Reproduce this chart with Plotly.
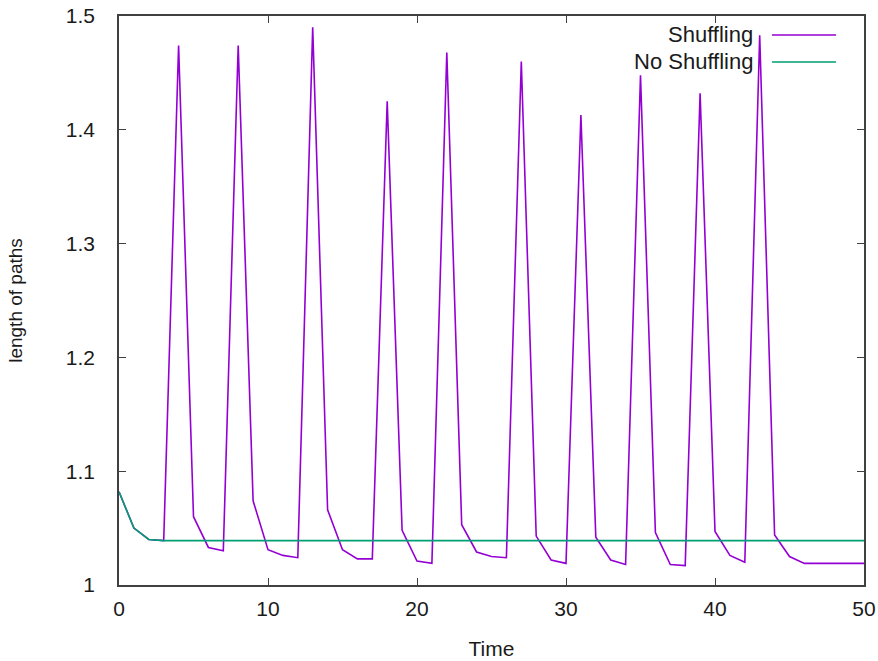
import plotly.graph_objects as go

# ---- data ----
time = list(range(0, 51))
shuffling = [
    1.082, 1.050, 1.040, 1.039, 1.474, 1.060, 1.033, 1.030, 1.474, 1.074,
    1.031, 1.026, 1.024, 1.490, 1.066, 1.031, 1.023, 1.023, 1.425, 1.048,
    1.021, 1.019, 1.468, 1.053, 1.029, 1.025, 1.024, 1.460, 1.043, 1.022,
    1.019, 1.413, 1.042, 1.022, 1.018, 1.448, 1.046, 1.018, 1.017, 1.432,
    1.047, 1.026, 1.020, 1.483, 1.044, 1.025, 1.019, 1.019, 1.019, 1.019,
    1.019,
]
no_shuffling = [1.082, 1.050, 1.040] + [1.039] * 48
series_names = ["Shuffling", "No Shuffling"]
series_colors = ["#9400d3", "#009e73"]
x_ticks = [0, 10, 20, 30, 40, 50]
y_ticks = [1.0, 1.1, 1.2, 1.3, 1.4, 1.5]
y_tick_labels = ["1", "1.1", "1.2", "1.3", "1.4", "1.5"]

FONT = "Liberation Sans, Arial, sans-serif"
TXT = "#1a1a1a"
AXC = "#404040"

fig = go.Figure()
for name, ys, col in zip(series_names, [shuffling, no_shuffling], series_colors):
    fig.add_trace(go.Scatter(x=time, y=ys, mode="lines", name=name,
                             line=dict(color=col, width=1.6), showlegend=False))

axis_common = dict(showgrid=False, zeroline=False, showline=True, linecolor=AXC,
                   linewidth=1.5, ticks="inside", ticklen=7, tickwidth=1.2,
                   tickcolor=AXC, mirror="ticks", automargin=False,
                   ticklabeloverflow="allow",
                   tickfont=dict(family=FONT, size=21, color=TXT))

fig.update_xaxes(range=[0, 50], tickvals=x_ticks, ticklabelstandoff=4,
                 title=dict(text="Time", font=dict(family=FONT, size=21, color=TXT),
                            standoff=22),
                 **axis_common)
fig.update_yaxes(range=[1, 1.5], tickvals=y_ticks, ticktext=y_tick_labels,
                 ticklabelstandoff=18,
                 title=dict(text="length of paths", font=dict(family=FONT, size=19, color=TXT),
                            standoff=38),
                 **axis_common)

W, H = 878, 661
L, R, T, B = 119, 14, 16, 76
pw, ph = W - L - R, H - T - B
def px(x):
    return (x - L) / pw
def py(y):
    return (H - B - y) / ph

# gnuplot-style key: right-aligned text with the line sample to its right
for i, (name, col) in enumerate(zip(series_names, series_colors)):
    yy = 35 + i * 27
    fig.add_annotation(x=px(755), y=py(yy), xref="paper", yref="paper", text=name,
                       showarrow=False, xanchor="right", yanchor="middle",
                       font=dict(family=FONT, size=22, color=TXT))
    fig.add_shape(type="line", xref="paper", yref="paper",
                  x0=px(772), x1=px(836), y0=py(yy), y1=py(yy),
                  line=dict(color=col, width=1.6))

fig.update_layout(width=W, height=H, margin=dict(l=L, r=R, t=T, b=B),
                  plot_bgcolor="white", paper_bgcolor="white")

# remove the page's default body margin so the figure fills the window exactly
fig.write_html("out.html", config={"displayModeBar": False},
               post_script="document.body.style.margin='0';document.body.style.overflow='hidden';")
